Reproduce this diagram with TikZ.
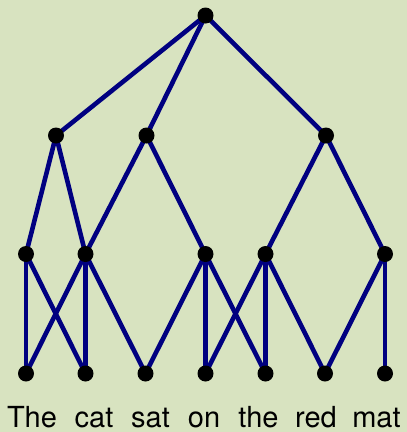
\documentclass[tikz,border=0pt]{standalone}
\usepackage{fontspec}
\setmainfont{TeX Gyre Heros}
\usetikzlibrary{positioning,backgrounds}
\definecolor{paper}{RGB}{216,227,192}
\definecolor{navy}{RGB}{0,0,128}
\tikzset{
  dot/.style={circle,fill=black,inner sep=0pt,minimum size=16pt},
  edge/.style={draw=navy,line width=4.6pt},
  word/.style={font=\fontsize{29}{32}\selectfont,anchor=base,inner sep=0pt},
}

\begin{document}
\begin{tikzpicture}[x=1pt,y=-1pt]
  \useasboundingbox (0,0) rectangle (407,432);
  % root and upper levels
  \node[dot] (root) at (205.5,15.5) {};
  \node[dot] (a1) at (56,135.5) {};
  \node[dot] (a2) at (146.5,135.5) {};
  \node[dot] (a3) at (326,135.5) {};
  \node[dot] (b1) at (26,254) {};
  \node[dot] (b2) at (85.5,254) {};
  \node[dot] (b3) at (205.5,254) {};
  \node[dot] (b4) at (265.5,254) {};
  \node[dot] (b5) at (385,254) {};
  % leaves
  \foreach \x [count=\i] in {26,85.5,145.5,205.5,265.5,325,385}
    \node[dot] (c\i) at (\x,373.5) {};
  % the sentence
  \foreach \x/\w [count=\i] in {32/The,94/cat,150.5/sat,204/on,258.5/the,316/red,376.5/mat}
    \node[word] (w\i) at (\x,427) {\w};
  \begin{scope}[on background layer]
    \fill[paper] (0,0) rectangle (407,432);
    \draw[edge] (root.center) -- (a1.center);
    \draw[edge] (root.center) -- (a2.center);
    \draw[edge] (root.center) -- (a3.center);
    \draw[edge] (a1.center) -- (b1.center);
    \draw[edge] (a1.center) -- (b2.center);
    \draw[edge] (a2.center) -- (b2.center);
    \draw[edge] (a2.center) -- (b3.center);
    \draw[edge] (a3.center) -- (b4.center);
    \draw[edge] (a3.center) -- (b5.center);
    \draw[edge] (b1.center) -- (c1.center);
    \draw[edge] (b1.center) -- (c2.center);
    \draw[edge] (b2.center) -- (c1.center);
    \draw[edge] (b2.center) -- (c2.center);
    \draw[edge] (b2.center) -- (c3.center);
    \draw[edge] (b3.center) -- (c3.center);
    \draw[edge] (b3.center) -- (c4.center);
    \draw[edge] (b3.center) -- (c5.center);
    \draw[edge] (b4.center) -- (c4.center);
    \draw[edge] (b4.center) -- (c5.center);
    \draw[edge] (b4.center) -- (c6.center);
    \draw[edge] (b5.center) -- (c6.center);
    \draw[edge] (b5.center) -- (c7.center);
  \end{scope}
\end{tikzpicture}
\end{document}
